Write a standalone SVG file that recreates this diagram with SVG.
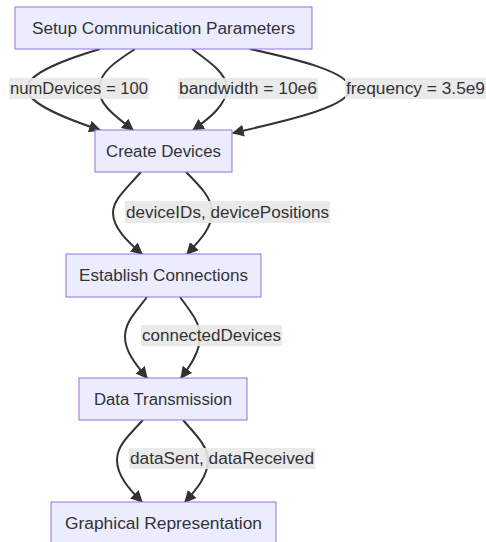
<svg xmlns="http://www.w3.org/2000/svg" width="486" height="542" viewBox="0 0 486 542">
<style>
.node rect{fill:#ECECFF;stroke:#9370DB;stroke-width:1}
text{font-family:"Liberation Sans",Arial,sans-serif;font-size:16px;fill:#333}
.edge{fill:none;stroke:#333;stroke-width:2}
.lbl rect{fill:#e8e8e8;opacity:0.9}
</style>
<defs>
<marker id="arrow" viewBox="0 0 10 10" refX="9" refY="5" markerUnits="userSpaceOnUse" markerWidth="12" markerHeight="12" orient="auto">
<path d="M0,0 L10,5 L0,10 z" fill="#333"/>
</marker>
</defs>
<g id="edges">
<path class="edge" marker-end="url(#arrow)" d="M100,49 C70,58 28,72 27,88 C26,104 70,120 100,130"/>
<path class="edge" marker-end="url(#arrow)" d="M135,49 C115,62 100,72 99,88 C98,105 118,118 133,130"/>
<path class="edge" marker-end="url(#arrow)" d="M192,49 C210,62 227,74 227,88 C227,104 210,118 193,130"/>
<path class="edge" marker-end="url(#arrow)" d="M250,49 C300,60 348,72 350,88 C352,106 290,120 233,133"/>
<path class="edge" marker-end="url(#arrow)" d="M141,172 C125,190 113,200 113,213 C113,228 128,242 142,254"/>
<path class="edge" marker-end="url(#arrow)" d="M186,172 C200,186 212,198 212,212 C212,228 200,240 187,254"/>
<path class="edge" marker-end="url(#arrow)" d="M147,297 C135,313 125,322 125,337 C125,352 137,366 147,378"/>
<path class="edge" marker-end="url(#arrow)" d="M180,297 C190,311 200,322 200,336 C200,352 190,366 181,378"/>
<path class="edge" marker-end="url(#arrow)" d="M143,420 C128,436 117,446 117,460 C117,476 130,490 142,502"/>
<path class="edge" marker-end="url(#arrow)" d="M183,420 C195,434 208,446 208,460 C208,476 196,490 185,502"/>
</g>
<g id="edge-labels">
<g class="lbl" id="l1"><rect x="9" y="78" width="140" height="21"/><text x="10" y="94" textLength="138" lengthAdjust="spacingAndGlyphs">numDevices = 100</text></g>
<g class="lbl" id="l2"><rect x="178" y="78" width="140" height="21"/><text x="179" y="94" textLength="138" lengthAdjust="spacingAndGlyphs">bandwidth = 10e6</text></g>
<g class="lbl" id="l3"><rect x="345" y="78" width="145" height="21"/><text x="346" y="94" textLength="139" lengthAdjust="spacingAndGlyphs">frequency = 3.5e9</text></g>
<g class="lbl" id="l4"><rect x="125" y="201" width="205" height="22"/><text x="126" y="217.5" textLength="203" lengthAdjust="spacingAndGlyphs">deviceIDs, devicePositions</text></g>
<g class="lbl" id="l5"><rect x="141" y="325" width="141" height="21"/><text x="142" y="341" textLength="139" lengthAdjust="spacingAndGlyphs">connectedDevices</text></g>
<g class="lbl" id="l6"><rect x="129" y="448" width="186" height="21"/><text x="130" y="464" textLength="184" lengthAdjust="spacingAndGlyphs">dataSent, dataReceived</text></g>
</g>
<g id="setup" class="node"><rect x="15" y="7" width="297" height="42"/><text x="32" y="33.5" textLength="263" lengthAdjust="spacingAndGlyphs">Setup Communication Parameters</text></g>
<g id="create" class="node"><rect x="95" y="130" width="137" height="42"/><text x="106" y="156.5" textLength="115" lengthAdjust="spacingAndGlyphs">Create Devices</text></g>
<g id="establish" class="node"><rect x="66" y="254" width="195" height="43"/><text x="79" y="281" textLength="169" lengthAdjust="spacingAndGlyphs">Establish Connections</text></g>
<g id="data" class="node"><rect x="79" y="378" width="168" height="42"/><text x="94" y="404.5" textLength="138" lengthAdjust="spacingAndGlyphs">Data Transmission</text></g>
<g id="graphical" class="node"><rect x="51" y="502" width="225" height="42"/><text x="65" y="528.5" textLength="197" lengthAdjust="spacingAndGlyphs">Graphical Representation</text></g>
</svg>
